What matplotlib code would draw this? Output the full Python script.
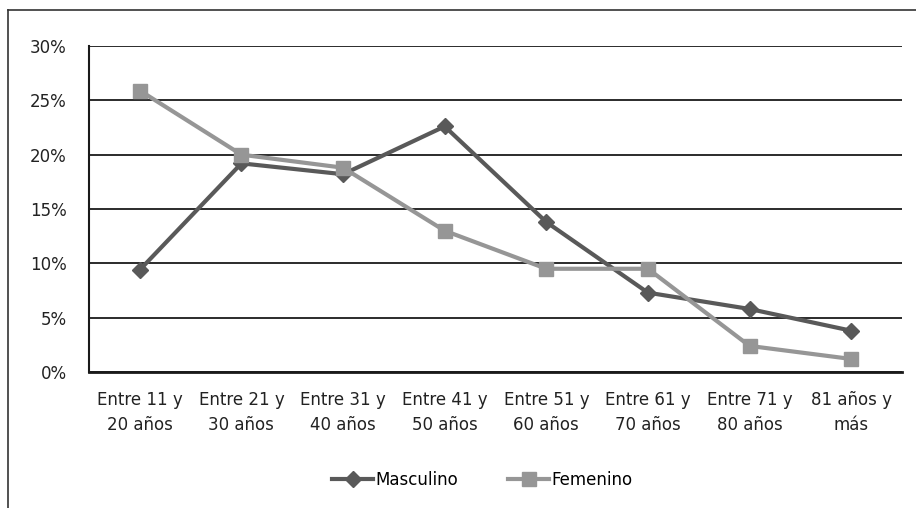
import matplotlib
matplotlib.use("Agg")
import matplotlib.pyplot as plt
from matplotlib.lines import Line2D
from matplotlib.ticker import FuncFormatter, MultipleLocator

categories = ["Entre 11 y\n20 años", "Entre 21 y\n30 años", "Entre 31 y\n40 años",
              "Entre 41 y\n50 años", "Entre 51 y\n60 años", "Entre 61 y\n70 años",
              "Entre 71 y\n80 años", "81 años y\nmás"]
masculino = [9.4, 19.2, 18.2, 22.6, 13.8, 7.3, 5.8, 3.8]
femenino = [25.9, 20.0, 18.8, 13.0, 9.5, 9.5, 2.4, 1.2]

plt.rcParams['font.family'] = ['Liberation Sans Narrow', 'DejaVu Sans']

fig = plt.figure(figsize=(9.16, 5.08), dpi=100)
ax = fig.add_axes([89/916, 1 - 372/508, 813/916, 326/508])

x = list(range(len(categories)))
ax.plot(x, masculino, color='#595959', lw=3, marker='D', ms=8, label='Masculino')
ax.plot(x, femenino, color='#969696', lw=3, marker='s', ms=10, label='Femenino')

ax.set_xlim(-0.5, len(categories) - 0.5)
ax.set_ylim(0, 30)
ax.yaxis.set_major_locator(MultipleLocator(5))
ax.yaxis.set_major_formatter(FuncFormatter(lambda v, p: '%d%%' % v))
ax.grid(axis='y', color='#1a1a1a', lw=1.3)
ax.set_axisbelow(True)
ax.set_xticks(x)
ax.set_xticklabels(categories, fontsize=12, linespacing=1.5)
ax.tick_params(axis='both', length=0, labelsize=12, colors='#222222')
ax.tick_params(axis='x', pad=14)
ax.tick_params(axis='y', pad=16)
for s in ['top', 'right']:
    ax.spines[s].set_visible(False)
ax.spines['left'].set_color('#1a1a1a')
ax.spines['left'].set_linewidth(1.5)
ax.spines['bottom'].set_color('#1a1a1a')
ax.spines['bottom'].set_linewidth(2)

ax.legend(loc='center', bbox_to_anchor=(482/916, 1 - 480/508), bbox_transform=fig.transFigure,
          ncol=2, frameon=False, fontsize=12, handlelength=2.5, handletextpad=0.1,
          columnspacing=3.0)

# outer frame (top and left only visible)
fig.add_artist(Line2D([8/916, 1], [1 - 10/508, 1 - 10/508], color='#333333', lw=1.2))
fig.add_artist(Line2D([8/916, 8/916], [0, 1 - 10/508], color='#333333', lw=1.2))

fig.savefig('out.png', dpi=100)
